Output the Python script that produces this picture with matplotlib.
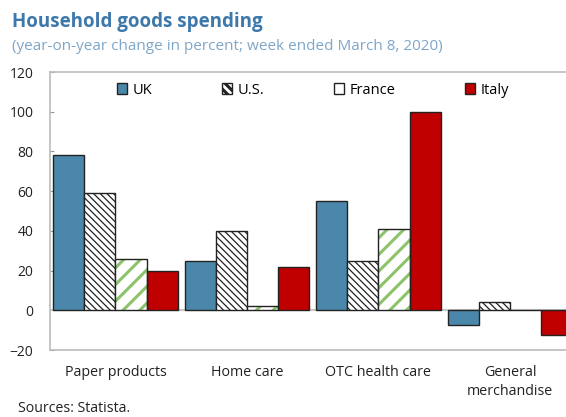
import numpy as np
import matplotlib.pyplot as plt
from matplotlib.patches import Patch

plt.rcParams['font.family'] = ['Open Sans', 'DejaVu Sans']

categories = ['Paper products', 'Home care', 'OTC health care', 'General\nmerchandise']
countries = ['UK', 'U.S.', 'France', 'Italy']
uk = [78, 25, 55, -7.5]
us = [59, 40, 25, 4]
france = [26, 2, 41, 0]
italy = [20, 22, 100, -12.5]

blue = '#4a87aa'
red = '#c00000'
green = '#8cc36a'

fig = plt.figure(figsize=(5.66, 4.17), dpi=100)
ax = fig.add_axes([50 / 566, 1 - 350 / 417, 526 / 566, 278 / 417])

x = np.arange(len(categories))
w = 0.236
offs = np.array([-1.5, -0.5, 0.5, 1.5]) * w

ax.bar(x + offs[0], uk, w, color=blue, edgecolor='#222222', linewidth=1.0, zorder=3)

plt.rcParams['hatch.linewidth'] = 0.9
ax.bar(x + offs[1], us, w, color='white', edgecolor='#222222', hatch='\\\\\\\\\\',
       linewidth=1.0, zorder=3)

plt.rcParams['hatch.linewidth'] = 2.2
ax.bar(x + offs[2], france, w, color='white', edgecolor=green, hatch='//', linewidth=0, zorder=3)
ax.bar(x + offs[2], france, w, fill=False, edgecolor='#222222', linewidth=1.0, zorder=4)

ax.bar(x + offs[3], italy, w, color=red, edgecolor='#222222', linewidth=1.0, zorder=3)

ax.axhline(0, color='#c8c8c8', linewidth=1.5, zorder=2)

ax.set_xlim(-0.498, 3.502)
ax.set_ylim(-20, 120)
ax.set_yticks(np.arange(-20, 121, 20))
ax.set_xticks(x)
ax.set_xticklabels(categories, fontsize=10.3, color='#222222', linespacing=1.35)
ax.tick_params(axis='x', length=0, pad=11)
ax.tick_params(axis='y', direction='in', length=3, color='#999999', labelsize=10,
               labelcolor='#222222', pad=12)
for s in ax.spines.values():
    s.set_color('#bbbbbb')
    s.set_linewidth(1.2)

handles = [
    Patch(facecolor=blue, edgecolor='#222222', label='UK'),
    Patch(facecolor='white', edgecolor='#222222', hatch='\\\\\\\\', label='U.S.'),
    Patch(facecolor='white', edgecolor='#222222', label='France'),
    Patch(facecolor=red, edgecolor='#222222', label='Italy'),
]
ax.legend(handles=handles, loc='center', bbox_to_anchor=(0.5, 0.935), ncol=4,
          frameon=False, fontsize=10.5, handlelength=0.7, handleheight=0.7,
          handletextpad=0.35, columnspacing=4.8)

fig.text(12 / 566, 1 - 22 / 417, 'Household goods spending', fontsize=13.5,
         fontweight='bold', color='#3d78aa', va='center')
fig.text(12 / 566, 1 - 46 / 417, '(year-on-year change in percent; week ended March 8, 2020)',
         fontsize=11, color='#7ea6c8', va='center')
fig.text(18 / 566, 1 - 408 / 417, 'Sources: Statista.', fontsize=10.2, color='#222222', va='center')

fig.savefig('out.png', dpi=100)
